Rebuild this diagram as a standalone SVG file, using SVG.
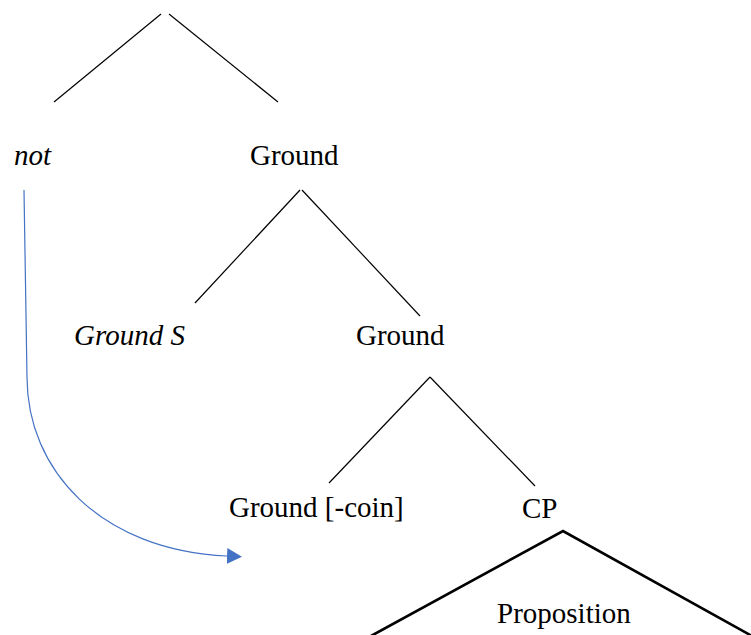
<svg xmlns="http://www.w3.org/2000/svg" width="751" height="635" viewBox="0 0 751 635" font-family="'Liberation Serif', 'Times New Roman', Times, serif">
<style>
text{font-family:'Liberation Serif','Times New Roman',Times,serif;font-size:29px;fill:#000}
.it{font-style:italic}
.br{stroke:#000;stroke-width:1.2;fill:none}
.tri{stroke:#000;stroke-width:2.6;fill:none}
.mv{stroke:#4472C4;stroke-width:1.2;fill:none}
</style>
<defs>
<marker id="ah" markerWidth="16" markerHeight="16" refX="0" refY="8" orient="auto" markerUnits="userSpaceOnUse">
<path d="M0,0 L15,8 L0,16 Z" fill="#4472C4"/>
</marker>
</defs>
<rect width="751" height="635" fill="#fff"/>
<g id="connectors">
<line class="br" x1="161" y1="14" x2="54" y2="102"/>
<line class="br" x1="169" y1="14" x2="278" y2="102"/>
<line class="br" x1="300" y1="190" x2="195" y2="303"/>
<line class="br" x1="302" y1="190" x2="420" y2="316"/>
<line class="br" x1="430" y1="377" x2="329" y2="483"/>
<line class="br" x1="430" y1="377" x2="535" y2="486"/>
<polyline class="tri" points="371,636 563,531 752,636"/>
<path class="mv" d="M24,190 L27,377 C27,470 100,550 227,556" marker-end="url(#ah)"/>
</g>
<g id="node-not"><text class="it" x="14" y="165">not</text></g>
<g id="node-ground1"><text x="250" y="165">Ground</text></g>
<g id="node-groundS"><text class="it" x="74" y="345">Ground S</text></g>
<g id="node-ground2"><text x="356" y="345">Ground</text></g>
<g id="node-groundcoin"><text x="229" y="517">Ground [-coin]</text></g>
<g id="node-cp"><text x="522" y="518">CP</text></g>
<g id="node-proposition"><text x="497" y="623">Proposition</text></g>
</svg>
